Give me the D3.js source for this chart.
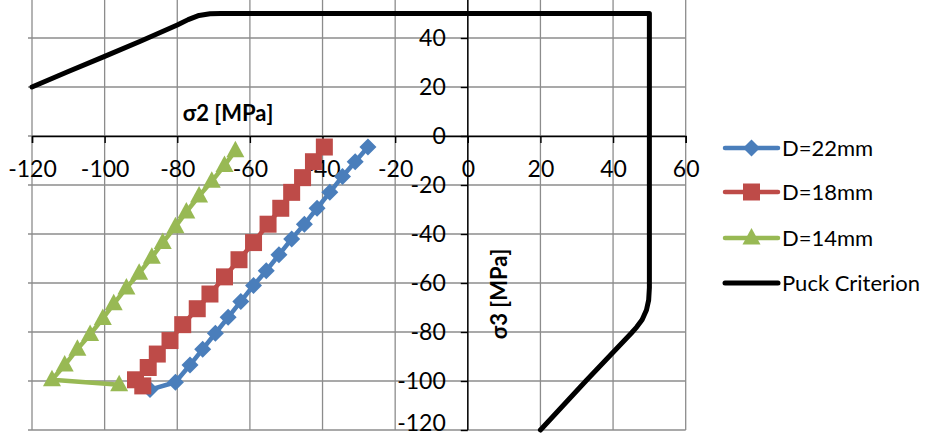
<!DOCTYPE html>
<html>
<head>
<meta charset="utf-8">
<script src="https://cdn.jsdelivr.net/npm/d3@7"></script>
<style>
  html, body { margin: 0; padding: 0; background: #fff; }
  svg { display: block; }
  text { font-family: Lato, "Open Sans", sans-serif; fill: #000; }
</style>
</head>
<body>
<svg id="chart" width="928" height="438"></svg>
<script>
// Axis ticks (MPa)
const xTickValues = [-120, -100, -80, -60, -40, -20, 0, 20, 40, 60];
const yTickValues = [-120, -100, -80, -60, -40, -20, 0, 20, 40, 60];

// D = 22 mm
const d22S2 = [-27.5, -31, -34.5, -38, -41.5, -45, -48.5, -52, -55.5, -59, -62.5, -66, -69.5, -73, -76.5, -80.5, -87.5];
const d22S3 = [-4.5, -10.5, -16.5, -23, -29.5, -36, -42, -48.5, -55, -61, -67.5, -74, -80.5, -87, -93.5, -100.5, -103.5];

// D = 18 mm
const d18S2 = [-39.5, -42.5, -45.5, -48.5, -51.5, -55, -59, -63, -67, -71, -74.5, -78.5, -82, -85.5, -88, -91.5, -89.5];
const d18S3 = [-4.5, -10.5, -17, -23, -29.5, -36, -43.5, -50.5, -57.5, -64.5, -70.5, -77, -83.5, -89, -94.5, -99.5, -102];

// D = 14 mm
const d14S2 = [-64, -67, -70.5, -74, -77.5, -80.5, -84, -87, -90.5, -94, -97.5, -100.5, -104, -107.5, -111, -114.5, -96];
const d14S3 = [-6, -12, -18.5, -24.5, -31, -37, -43.5, -49.5, -56, -62, -68.5, -74.5, -81, -87, -93.5, -99.5, -101.5];

// Puck failure envelope
const puckS2 = [-120, -110, -100, -90, -80, -77, -74, -71, -68, -60, 50, 50, 49.8, 49.2, 48, 46.5, 45, 32.5, 20];
const puckS3 = [20, 26.3, 32.5, 38.8, 45.3, 47.5, 49.2, 49.9, 50, 50, 50, -62, -67, -71, -75, -78, -80.5, -100, -120];

const seriesNames = ["D=22mm", "D=18mm", "D=14mm", "Puck Criterion"];
const seriesColors = ["#4a7ebb", "#be4b48", "#98b954", "#000000"];
const seriesShapes = ["diamond", "square", "triangle", null];

const toPoints = (xs, ys) => xs.map((v, i) => [v, ys[i]]);
const series = [
  toPoints(d22S2, d22S3),
  toPoints(d18S2, d18S3),
  toPoints(d14S2, d14S3),
  toPoints(puckS2, puckS3)
];

const svg = d3.select("#chart");

const x = d3.scaleLinear().domain([-120, 60]).range([32, 685.7]);
const y = d3.scaleLinear().domain([-120, 60]).range([430, -11]);

const gridColor = "#8c8c8c";
const fmt = d => String(d); // plain hyphen-minus, as in spreadsheet labels

// Gridlines
const grid = svg.append("g");
grid.selectAll("line.v").data(xTickValues).join("line")
  .attr("x1", d => x(d)).attr("x2", d => x(d))
  .attr("y1", y(60)).attr("y2", y(-120))
  .attr("stroke", gridColor).attr("stroke-width", 1.3);
grid.selectAll("line.h").data(yTickValues).join("line")
  .attr("x1", x(-120) - 4).attr("x2", x(60))
  .attr("y1", d => y(d)).attr("y2", d => y(d))
  .attr("stroke", gridColor).attr("stroke-width", 1.3);

// Horizontal axis through σ3 = 0
const xAxis = d3.axisBottom(x).tickValues(xTickValues).tickSize(7).tickPadding(20).tickFormat(fmt);
const gx = svg.append("g").attr("transform", `translate(0,${y(0)})`).call(xAxis);
gx.select(".domain").attr("stroke", "#000").attr("stroke-width", 1.4);
gx.selectAll(".tick line").attr("stroke", "#000").attr("stroke-width", 1.4);
gx.selectAll(".tick text").attr("font-size", 23).attr("font-family", "Lato").attr("dy", "0.6em");

// Vertical axis through σ2 = 0
const yAxis = d3.axisLeft(y).tickValues(yTickValues.filter(v => v < 60)).tickSize(7).tickPadding(15).tickFormat(fmt);
const gy = svg.append("g").attr("transform", `translate(${x(0)},0)`).call(yAxis);
gy.select(".domain").attr("stroke", "#000").attr("stroke-width", 1.4).attr("d", `M0,${y(60)}V${y(-120)}`);
gy.selectAll(".tick line").attr("stroke", "#000").attr("stroke-width", 1.4);
gy.selectAll(".tick text").attr("font-size", 23).attr("font-family", "Lato")
  .attr("dy", d => d === -120 ? "0.0em" : "0.34em");

// Axis titles
svg.append("text")
  .attr("x", 228).attr("y", 121)
  .attr("text-anchor", "middle")
  .attr("font-size", 22).attr("font-weight", "bold")
  .text("σ2 [MPa]");
svg.append("text")
  .attr("transform", `translate(507,294) rotate(-90)`)
  .attr("text-anchor", "middle")
  .attr("font-size", 22).attr("font-weight", "bold")
  .text("σ3 [MPa]");

// Plot area clip
svg.append("clipPath").attr("id", "plot-clip")
  .append("rect").attr("x", x(-120) - 3).attr("y", -20)
  .attr("width", x(60) - x(-120) + 6).attr("height", y(-120) + 24);

const line = d3.line().x(d => x(d[0])).y(d => y(d[1]));

function markerPath(shape, cx, cy) {
  if (shape === "diamond") {
    const r = 8.5;
    return `M${cx},${cy - r}L${cx + r},${cy}L${cx},${cy + r}L${cx - r},${cy}Z`;
  }
  if (shape === "square") {
    const h = 8.5;
    return `M${cx - h},${cy - h}H${cx + h}V${cy + h}H${cx - h}Z`;
  }
  if (shape === "triangle") {
    const w = 9;
    return `M${cx},${cy - 10}L${cx + w},${cy + 6.5}L${cx - w},${cy + 6.5}Z`;
  }
  return "";
}

const plot = svg.append("g").attr("clip-path", "url(#plot-clip)");

series.forEach((pts, i) => {
  const g = plot.append("g");
  g.append("path")
    .attr("d", line(pts))
    .attr("fill", "none")
    .attr("stroke", seriesColors[i])
    .attr("stroke-width", i === 3 ? 5 : 4.5)
    .attr("stroke-linejoin", "round")
    .attr("stroke-linecap", "round");
  if (seriesShapes[i]) {
    g.selectAll("path.mk").data(pts).join("path")
      .attr("class", "mk")
      .attr("d", d => markerPath(seriesShapes[i], x(d[0]), y(d[1])))
      .attr("fill", seriesColors[i]);
  }
});

// Legend
const legendRows = [148, 192, 238, 283];
const legend = svg.append("g");
seriesNames.forEach((name, i) => {
  const ly = legendRows[i];
  legend.append("line")
    .attr("x1", 725).attr("x2", 778).attr("y1", ly).attr("y2", ly)
    .attr("stroke", seriesColors[i]).attr("stroke-width", i === 3 ? 5 : 4.5)
    .attr("stroke-linecap", "round");
  if (seriesShapes[i]) {
    legend.append("path")
      .attr("d", markerPath(seriesShapes[i], 751.5, ly))
      .attr("fill", seriesColors[i]);
  }
  legend.append("text")
    .attr("x", 782).attr("y", ly)
    .attr("dy", "0.36em")
    .attr("font-size", 22)
    .text(name);
});
</script>
</body>
</html>
